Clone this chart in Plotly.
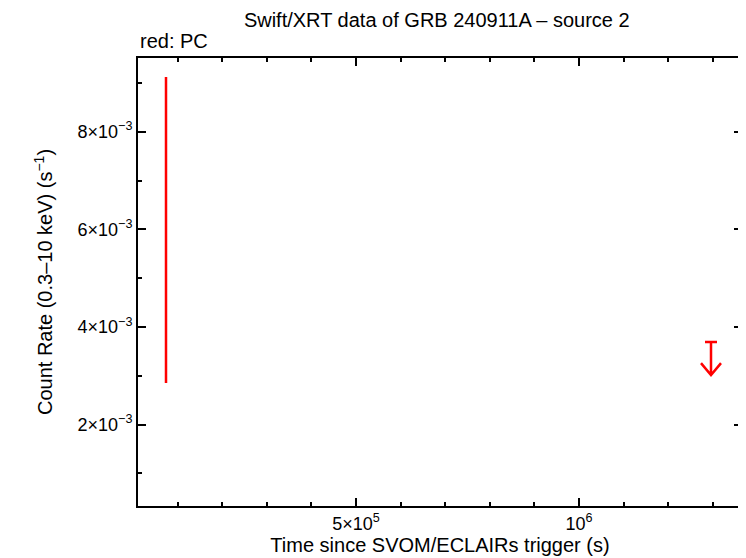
import plotly.graph_objects as go

# Data
pc_time = [7.4e4]
pc_rate = [5.985e-3]
pc_rate_err = [3.135e-3]

ul_time = [1.296e6]
ul_rate = [3.69e-3]

x_tickvals = [5e5, 1e6]
x_ticktext = ["5×10<sup>5</sup>", "10<sup>6</sup>"]
y_tickvals = [2e-3, 4e-3, 6e-3, 8e-3]
y_ticktext = ["2×10<sup>−3</sup>", "4×10<sup>−3</sup>", "6×10<sup>−3</sup>", "8×10<sup>−3</sup>"]

RED = "#ff0000"
FONT = "Liberation Sans, Arial, sans-serif"

fig = go.Figure()

fig.add_trace(go.Scatter(
    x=pc_time, y=pc_rate, mode="markers",
    marker=dict(size=1, color=RED),
    error_y=dict(type="data", array=pc_rate_err, color=RED, thickness=2.5, width=0),
    showlegend=False,
))

# upper-limit glyph drawn as pixel-sized path anchored at data position
for t, r in zip(ul_time, ul_rate):
    fig.add_shape(
        type="path", xref="x", yref="y",
        xsizemode="pixel", ysizemode="pixel",
        xanchor=t, yanchor=r,
        path="M-6,0 L6,0 M0,0 L0,-33 M-10,-21 L0,-33 L10,-21",
        line=dict(color=RED, width=2.5),
    )

fig.update_layout(
    width=738, height=550,
    margin=dict(l=130, r=4, t=50, b=52, autoexpand=False),
    paper_bgcolor="white", plot_bgcolor="white",
    font=dict(family=FONT, size=18, color="black"),
    title=dict(text="Swift/XRT data of GRB 240911A – source 2", x=0.581, xanchor="center",
               y=0.978, yanchor="middle", font=dict(size=20)),
    annotations=[dict(text="red: PC", xref="paper", yref="paper", x=0, y=1.0,
                      xanchor="left", yanchor="bottom", yshift=4, showarrow=False,
                      font=dict(size=20))],
)

fig.update_xaxes(
    range=[11211, 1.3655e6], showline=True, linewidth=2, linecolor="black",
    mirror="allticks", ticks="inside", ticklen=8, tickwidth=2, tickcolor="black",
    tickvals=x_tickvals, ticktext=x_ticktext, showgrid=False, zeroline=False,
    minor=dict(ticks="inside", ticklen=4, tickwidth=2, tickcolor="black", dtick=1e5, tick0=0, showgrid=False),
    title=dict(text="Time since SVOM/ECLAIRs trigger (s)", standoff=2, font=dict(size=20)),
    tickfont=dict(size=18), automargin=False,
)
fig.update_yaxes(
    range=[0.332e-3, 9.51e-3], showline=True, linewidth=2, linecolor="black",
    mirror="allticks", ticks="inside", ticklen=8, tickwidth=2, tickcolor="black",
    tickvals=y_tickvals, ticktext=y_ticktext, showgrid=False, zeroline=False,
    minor=dict(ticks="inside", ticklen=4, tickwidth=2, tickcolor="black", dtick=1e-3, tick0=0, showgrid=False),
    title=dict(text="Count Rate (0.3–10 keV) (s<sup>−1</sup>)", standoff=19, font=dict(size=20)),
    tickfont=dict(size=18), automargin=False,
)

fig.write_html("out.html")
